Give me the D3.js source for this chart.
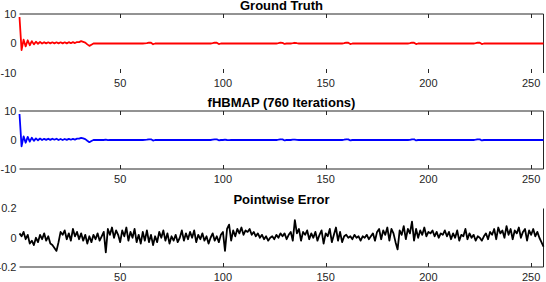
<!DOCTYPE html>
<html>
<head>
<meta charset="utf-8">
<script src="https://cdn.jsdelivr.net/npm/d3@7"></script>
<style>
html, body { margin: 0; padding: 0; background: #fff; }
svg { display: block; font-family: "Liberation Sans", Arial, sans-serif; }
</style>
</head>
<body>
<div id="chart"></div>
<script>
var width = 546, height = 282;

// data (256 samples each)
var xTicks = [50, 100, 150, 200, 250];

var truth = [
  9, -2.2, 1.3, -1, 1.1, -0.6, 0.8, -0.3, 0.6, -0.1, 0.5, 0, 0.45, 0.05, 0.4, 0.05,
  0.4, 0.05, 0.4, 0.05, 0.4, 0.05, 0.4, 0.05, 0.45, 0.1, 0.45, 0.15, 0.5, 0.45, 0.8, 0.55,
  0.3, -0.3, -0.8, -0.4, 0, 0, 0, 0, 0, 0, 0, 0, 0, 0, 0, 0,
  0, 0, 0, 0, 0, 0, 0, 0, 0, 0, 0, 0, 0, 0.05, 0.1, 0.3,
  0.25, -0.25, 0, 0, 0, 0, 0, 0, 0, 0, 0, 0, 0, 0, 0, 0,
  0, 0, 0, 0, 0, 0, 0, 0, 0, 0, 0, 0, 0, 0, 0.1, 0.3,
  0.25, -0.2, 0, 0, 0, 0, 0, 0, 0, 0, 0, 0, 0, 0, 0, 0,
  0, 0, 0, 0, 0, 0, 0, 0, 0, 0, 0, 0, 0, 0, 0.1, 0.3,
  0.2, -0.15, 0, 0, 0, 0.1, 0.25, 0.1, 0, 0, 0, 0, 0, 0, 0, 0,
  0, 0, 0, 0, 0, 0, 0, 0, 0, 0, 0, 0, 0, 0, 0.1, 0.3,
  0.25, -0.2, 0, 0, 0, 0, 0, 0, 0, 0, 0, 0, 0, 0, 0, 0,
  0, 0, 0, 0, 0, 0, 0, 0, 0, 0, 0, 0, 0, 0, 0.1, 0.3,
  0.25, -0.2, 0, 0, 0, 0, 0, 0, 0, 0, 0, 0, 0, 0, 0, 0,
  0, 0, 0, 0, 0, 0, 0, 0, 0, 0, 0, 0, 0, 0, 0.1, 0.3,
  0.25, -0.2, 0, 0, 0, 0, 0, 0, 0, 0, 0, 0, 0, 0, 0, 0,
  0, 0, 0, 0, 0, 0, 0, 0, 0, 0, 0, 0, 0, 0, 0, 0
];

var estimate = [
  8.95, -2.15, 1.25, -0.95, 1.1, -0.55, 0.8, -0.3, 0.55, -0.1, 0.5, 0, 0.4, 0.05, 0.45, 0.05,
  0.45, 0.1, 0.45, 0, 0.35, 0, 0.35, 0.05, 0.4, 0.1, 0.4, 0.15, 0.45, 0.45, 0.75, 0.55,
  0.3, -0.25, -0.75, -0.35, 0, 0, 0, 0.05, 0, 0, 0.1, -0.05, 0, 0, 0.05, 0,
  0, 0.05, 0, 0.05, 0, 0.05, 0, 0, 0.05, 0, 0, 0, 0, 0.05, 0.1, 0.25,
  0.25, -0.2, 0, 0, 0, 0, 0, 0, 0, 0, 0, 0, 0, 0, 0, 0,
  0, 0, 0, 0, 0, 0, 0, 0, 0, 0, 0, 0, 0, 0, 0.1, 0.2,
  0.2, -0.1, 0, 0, 0.1, 0, -0.05, 0, 0, 0, 0, 0, 0, 0, 0, 0,
  0, 0, 0, 0, 0, 0, 0, 0, 0, 0, 0, 0, 0, 0, 0.1, 0.25,
  0.2, -0.15, 0, 0, 0, 0.1, 0.15, 0.05, 0, 0, 0, 0, 0, 0, 0, 0,
  0, 0, 0, 0, 0, 0, 0, 0, 0, 0, 0, 0, 0, 0, 0.1, 0.25,
  0.2, -0.15, 0, 0, 0, 0, 0, 0, 0, 0, 0, 0, 0, 0, 0, 0,
  0, 0, 0, 0, 0, 0, 0, 0, 0, 0, 0, 0, 0, 0, 0.05, 0.2,
  0.25, -0.15, 0, 0, 0, 0, 0, 0, 0, 0, 0, 0, 0, 0, 0, 0,
  0, 0, 0, 0, 0, 0, 0, 0, 0, 0, 0, 0, 0, 0, 0.1, 0.25,
  0.2, -0.15, 0, 0, 0, 0, 0, 0, 0, 0, 0, 0, 0, 0, 0, 0,
  0, 0, 0, 0, 0, 0, 0, 0, 0, 0, 0, 0, 0, 0, 0, 0
];

var pointError = [
  0.03, 0.01, 0.04, -0.01, 0.02, -0.04, -0.02, -0.05, 0, -0.03, 0.02, -0.01, 0.03, -0.02, 0.01, -0.04,
  -0.05, -0.07, -0.09, -0.03, 0.04, 0.02, 0.05, -0.01, 0.03, -0.02, 0.06, 0.01, 0.04, -0.01, 0.03, -0.02,
  0.02, -0.04, 0.01, -0.03, 0.02, -0.01, 0.03, -0.02, 0.01, 0.04, -0.1, 0.06, 0.02, 0.07, 0, 0.05,
  0.02, -0.03, 0.05, 0.01, 0.07, -0.02, 0.04, 0, 0.06, -0.03, 0.02, -0.04, 0.04, -0.02, 0.05, -0.03,
  0.02, -0.05, 0.01, -0.03, 0.04, 0, 0.05, -0.02, 0.03, -0.04, 0.01, -0.02, 0.02, -0.03, 0, 0.05,
  -0.02, 0.03, -0.01, 0.04, 0, 0.05, -0.03, 0.02, -0.01, 0.03, -0.02, 0.01, -0.04, 0, 0.03, -0.02,
  0.01, -0.03, 0.02, 0.04, -0.09, 0.06, 0.09, -0.02, 0.05, 0.01, 0.06, 0.03, 0.07, 0.02, 0.05, 0.04,
  0.06, 0.02, 0.04, 0.01, 0.03, 0, 0.02, -0.01, 0.01, -0.02, 0, 0.01, -0.01, 0.02, 0, 0.03,
  0.01, 0.03, -0.01, 0.02, 0.04, -0.02, 0.12, 0.03, 0.06, -0.02, 0.04, 0.02, 0.05, -0.01, 0.03, 0,
  0.04, -0.02, 0.02, 0.05, -0.04, 0.03, 0.01, 0.06, -0.03, 0.02, 0.07, -0.02, 0.04, -0.03, 0.01, 0.02,
  0, 0.01, -0.01, 0.02, 0, 0.01, -0.02, 0.01, 0, 0.02, -0.01, 0.01, 0.03, -0.02, 0.04, 0.06,
  -0.01, 0.05, 0.02, 0.07, -0.02, 0.06, 0.03, -0.03, -0.08, 0.05, 0.02, 0.08, -0.01, 0.06, 0.03, 0.11,
  -0.02, 0.06, 0, 0.05, 0.02, 0.07, 0.01, 0.04, 0.03, 0.05, 0.01, 0.04, 0, 0.03, 0.02, 0.05,
  0.01, 0.04, -0.01, 0.03, 0, 0.05, -0.02, 0.02, 0.01, 0.06, -0.01, 0.03, 0, 0.02, -0.02, 0.01,
  0, -0.02, 0.01, 0.03, -0.01, 0.04, 0.02, 0.06, -0.01, 0.07, 0.03, 0.05, 0, 0.08, 0.02, 0.06,
  -0.01, 0.05, 0.03, 0.07, 0, 0.04, 0.06, -0.02, 0.05, 0.02, 0.06, 0.01, 0.04, 0, -0.03, -0.06
];

var titles = ["Ground Truth", "fHBMAP (760 Iterations)", "Pointwise Error"];
var yDomains = [[-10, 10], [-10, 10], [-0.2, 0.2]];
var yTickVals = [[-10, 0, 10], [-10, 0, 10], [-0.2, 0, 0.2]];

var panels = [
  { series: truth, color: "#ff0000", top: 14, bottom: 73, lineTop: true, lineBottom: false, ticksTop: true },
  { series: estimate, color: "#0000ff", top: 111, bottom: 169, lineTop: true, lineBottom: true, ticksTop: true },
  { series: pointError, color: "#000000", top: 208.5, bottom: 267, lineTop: false, lineBottom: true, ticksTop: false }
];

var svg = d3.select("#chart").append("svg")
    .attr("width", width)
    .attr("height", height);

var x = d3.scaleLinear()
    .domain([1, 256])
    .range([19.5, 543.5]);

var axisColor = "#262626";
var tickLen = 4;

panels.forEach(function(p, k) {
  var y = d3.scaleLinear()
      .domain(yDomains[k])
      .range([p.bottom, p.top]);

  var g = svg.append("g");

  // box edges (only the ones that show in the reference)
  if (p.lineTop) {
    g.append("line").attr("x1", x.range()[0]).attr("x2", x.range()[1])
      .attr("y1", p.top).attr("y2", p.top)
      .attr("stroke", axisColor).attr("stroke-width", 1);
  }
  if (p.lineBottom) {
    g.append("line").attr("x1", x.range()[0]).attr("x2", x.range()[1])
      .attr("y1", p.bottom).attr("y2", p.bottom)
      .attr("stroke", axisColor).attr("stroke-width", 1);
  }
  g.append("line").attr("x1", x.range()[1]).attr("x2", x.range()[1])
    .attr("y1", p.top).attr("y2", p.bottom)
    .attr("stroke", axisColor).attr("stroke-width", 1);

  // x ticks, pointing inward
  xTicks.forEach(function(t) {
    var xp = Math.round(x(t)) + 0.5;
    g.append("line").attr("x1", xp).attr("x2", xp)
      .attr("y1", p.bottom).attr("y2", p.bottom - tickLen)
      .attr("stroke", axisColor);
    if (p.ticksTop) {
      g.append("line").attr("x1", xp).attr("x2", xp)
        .attr("y1", p.top).attr("y2", p.top + tickLen)
        .attr("stroke", axisColor);
    }
    g.append("text")
      .attr("x", x(t))
      .attr("y", p.bottom + 13.5)
      .attr("text-anchor", "middle")
      .style("font-size", "11px")
      .style("fill", axisColor)
      .text(t);
  });

  yTickVals[k].forEach(function(t) {
    g.append("text")
      .attr("x", 16.5)
      .attr("y", y(t))
      .attr("dy", "0.36em")
      .attr("text-anchor", "end")
      .style("font-size", "11px")
      .style("fill", axisColor)
      .text(String(t));
  });

  var line = d3.line()
      .x(function(d, i) { return x(i + 1); })
      .y(function(d) { return y(d); });

  g.append("path")
    .datum(p.series)
    .attr("d", line)
    .attr("fill", "none")
    .attr("stroke", p.color)
    .attr("stroke-width", 1.8)
    .attr("stroke-linejoin", "round");

  g.append("text")
    .attr("x", (x.range()[0] + x.range()[1]) / 2)
    .attr("y", p.top - 4.5)
    .attr("text-anchor", "middle")
    .style("font-size", "13px")
    .style("font-weight", "bold")
    .style("fill", "#000")
    .text(titles[k]);
});
</script>
</body>
</html>
